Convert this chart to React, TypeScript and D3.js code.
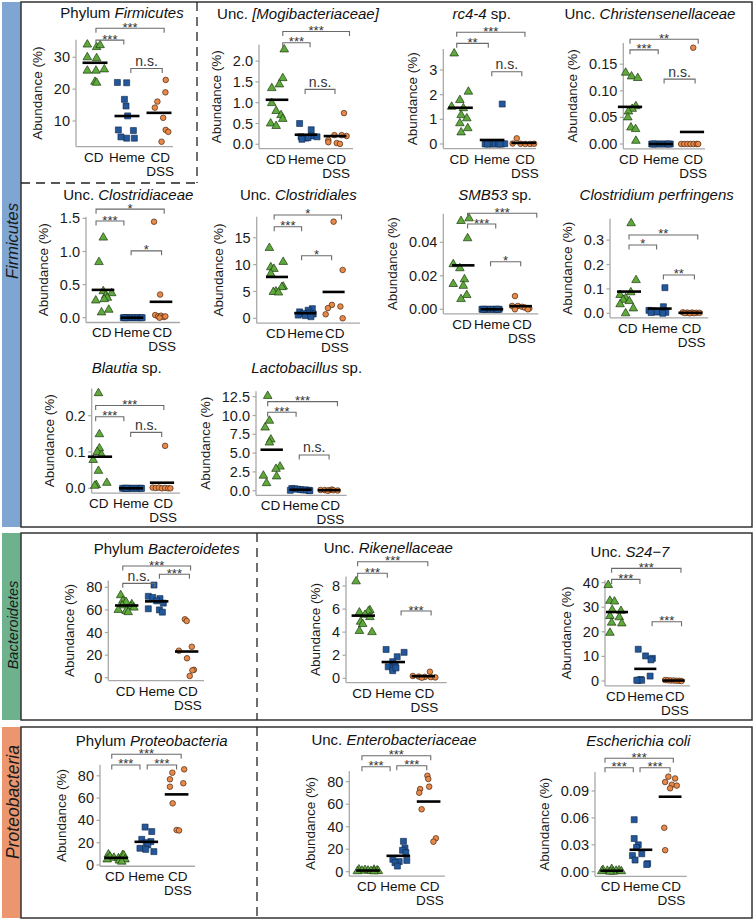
import React, { useEffect } from "react";
import * as d3 from "d3";

const W = 755;
const H = 921;
const categories = ["CD", "Heme", "CD DSS"];
const axisTitle = "Abundance (%)";

type Sig = [number, number, number, string];
type Seg = [string, boolean];

// ---------- DATA ----------
const firmicutesCD = [34.0, 33.2, 33.8, 30.0, 29.7, 25.8, 25.8, 26.2, 22.3, 22.0];
const firmicutesHeme = [22.1, 22.0, 16.8, 14.7, 11.6, 7.2, 7.0, 4.6, 4.6, 5.0];
const firmicutesDSS = [22.9, 19.0, 16.1, 14.2, 11.0, 7.2, 6.6, 3.5];
const firmicutesTicks = ["10", "20", "30"];
const firmicutesSig: Sig[] = [[0.03, 0.9, 35.4, "***"], [0.03, 2.16, 39.1, "***"], [1.12, 2.1, 26.5, "n.s."]];

const mogiCD = [2.28, 1.59, 1.44, 1.35, 0.99, 0.8, 0.7, 0.61, 0.5, 0.44];
const mogiHeme = [0.5, 0.35, 0.15, 0.18, 0.2, 0.18, 0.16, 0.12];
const mogiDSS = [0.75, 0.22, 0.22, 0.2, 0.1, 0.05, 0.03, 0.01];
const mogiTicks = ["0.0", "0.5", "1.0", "1.5", "2.0"];
const mogiSig: Sig[] = [[0.2, 1.14, 2.44, "***"], [0.2, 2.5, 2.71, "***"], [0.97, 2.0, 1.32, "n.s."]];

const rc44CD = [3.67, 2.12, 1.78, 1.51, 1.45, 1.17, 1.04, 0.84, 0.64, 0.47];
const rc44Heme = [1.62, 0, 0, 0, 0, 0, 0, 0.01, 0, 0];
const rc44DSS = [0.23, 0.02, 0.01, 0, 0, 0.01];
const rc44Ticks = ["0", "1", "2", "3"];
const rc44Sig: Sig[] = [[-0.12, 0.88, 4.08, "**"], [-0.12, 2.04, 4.53, "***"], [0.99, 1.94, 2.93, "n.s."]];

const christCD = [0.134, 0.127, 0.124, 0.071, 0.066, 0.061, 0.05, 0.031, 0.028, 0.006];
const christHeme = [0, 0, 0, 0, 0, 0, 0, 0, 0];
const christDSS = [0.181, 0, 0, 0, 0, 0, 0, 0];
const christTicks = ["0.00", "0.05", "0.10", "0.15"];
const christSig: Sig[] = [[0, 0.91, 0.177, "***"], [0, 2.2, 0.197, "**"], [1.1, 2.1, 0.122, "n.s."]];

const clostriCD = [1.21, 0.84, 0.4, 0.37, 0.34, 0.3, 0.28, 0.26, 0.12, 0.08];
const clostriHeme = [0, 0, 0, 0, 0, 0, 0, 0, 0];
const clostriDSS = [1.45, 0.35, 0.04, 0.02, 0.03, 0.01, 0.02, 0.0];
const clostriTicks = ["0.0", "0.5", "1.0", "1.5"];
const clostriSig: Sig[] = [[-0.24, 0.72, 1.46, "***"], [-0.24, 2.11, 1.64, "*"], [0.97, 2.02, 1.01, "*"]];

const clostrialesCD = [13.1, 10.5, 9.5, 9.2, 8.3, 5.9, 5.8, 5.0, 4.9, 4.8];
const clostrialesHeme = [1.8, 1.5, 1.2, 1.0, 0.9, 0.8, 0.6, 0.5, 0.3];
const clostrialesDSS = [18.0, 9.0, 2.5, 2.2, 1.9, 0.75, 0.0];
const clostrialesTicks = ["0", "5", "10", "15"];
const clostrialesSig: Sig[] = [[-0.1, 0.87, 17.06, "***"], [-0.1, 2.28, 19.24, "*"], [0.87, 1.93, 11.66, "*"]];

const smb53CD = [0.0543, 0.0527, 0.0424, 0.0269, 0.0245, 0.0179, 0.0151, 0.014, 0.0085, 0.0061];
const smb53Heme = [0, 0, 0, 0, 0, 0, 0, 0, 0];
const smb53DSS = [0.0079, 0.002, 0.002, 0.0015, 0.001, 0.0005, 0, 0];
const smb53Ticks = ["0.00", "0.02", "0.04"];
const smb53Sig: Sig[] = [[0.15, 1.13, 0.0509, "***"], [0.15, 2.56, 0.0573, "***"], [0.95, 2.0, 0.0284, "*"]];

const perfCD = [0.369, 0.136, 0.086, 0.075, 0.062, 0.055, 0.05, 0.037, 0.02, 0.0];
const perfHeme = [0.105, 0.027, 0.012, 0.01, 0.008, 0.005, 0.004, 0.003, 0.0];
const perfDSS = [0.004, 0.003, 0.003, 0.002, 0.002, 0.001, 0.001, 0.0];
const perfTicks = ["0.0", "0.1", "0.2", "0.3"];
const perfSig: Sig[] = [[0, 0.9, 0.28, "*"], [0, 2.24, 0.321, "**"], [1.12, 2.13, 0.157, "**"]];

const blautiaCD = [0.262, 0.149, 0.11, 0.1, 0.092, 0.078, 0.048, 0.015, 0.009, 0.007];
const blautiaHeme = [0, 0, 0, 0, 0, 0, 0, 0, 0];
const blautiaDSS = [0.117, 0.002, 0.001, 0.002, 0, 0.001, 0, 0];
const blautiaTicks = ["0.0", "0.1", "0.2"];
const blautiaSig: Sig[] = [[-0.14, 0.77, 0.197, "***"], [-0.14, 2.06, 0.228, "***"], [0.99, 1.99, 0.154, "n.s."]];

const lactoCD = [12.6, 9.3, 8.4, 6.8, 6.4, 3.2, 2.9, 2.0, 1.9, 1.0];
const lactoHeme = [0.3, 0.25, 0.2, 0.15, 0.1, 0.1, 0.05, 0.05, 0.0];
const lactoDSS = [0.15, 0.1, 0.08, 0.05, 0.05, 0.03, 0.0];
const lactoTicks = ["0.0", "2.5", "5.0", "7.5", "10.0", "12.5"];
const lactoSig: Sig[] = [[-0.14, 0.85, 10.43, "***"], [-0.14, 2.29, 11.84, "***"], [0.96, 2.0, 4.75, "n.s."]];

const bactCD = [73, 68, 67, 65, 64, 63, 62, 60, 59, 58];
const bactHeme = [82, 72, 71, 70, 68, 66, 61, 60, 58];
const bactDSS = [51.7, 50.2, 27.4, 23.9, 17.2, 7.0, 6.5, 1.5];
const bactTicks = ["0", "20", "40", "60", "80"];
const bactSig: Sig[] = [[-0.13, 0.94, 83.5, "n.s."], [-0.13, 2.13, 98.8, "***"], [1.09, 2.09, 91.5, "***"]];

const rikenCD = [8.4, 5.9, 5.8, 5.7, 5.5, 5.3, 4.9, 4.7, 4.1, 4.0];
const rikenHeme = [2.5, 2.25, 1.87, 1.44, 1.2, 1.0, 0.87, 0.66, 0.9];
const rikenDSS = [0.57, 0.2, 0.15, 0.12, 0.1, 0.08, 0.05];
const rikenTicks = ["0", "2", "4", "6", "8"];
const rikenSig: Sig[] = [[-0.19, 0.8, 9.1, "***"], [-0.19, 2.15, 10.1, "***"], [1.26, 2.26, 5.83, "***"]];

const s247CD = [39.0, 32.6, 32.3, 28.9, 28.5, 26.4, 25.9, 23.7, 23.4, 19.6];
const s247Heme = [12.9, 10.2, 9.2, 8.6, 2.0, 0.6, 0.3, 0.3, 0.3];
const s247DSS = [0.4, 0.3, 0.2, 0.2, 0.1, 0.1, 0.0];
const s247Ticks = ["0", "10", "20", "30", "40"];
const s247Sig: Sig[] = [[-0.19, 0.81, 41.3, "***"], [-0.19, 2.26, 45.8, "***"], [1.24, 2.28, 24.1, "***"]];

const proteoCD = [9.5, 9.0, 8.5, 7.5, 6.5, 6.0, 5.0, 5.0, 4.0, 3.0];
const proteoHeme = [34, 30, 23, 21, 20, 18, 15, 14, 12];
const proteoDSS = [85.8, 82.8, 76.9, 73.3, 70.2, 55.3, 31.4, 31.0];
const proteoTicks = ["0", "20", "40", "60", "80"];
const proteoSig: Sig[] = [[-0.14, 0.79, 89.7, "***"], [-0.14, 2.15, 99.3, "***"], [1.03, 2.0, 89.7, "***"]];

const enteroCD = [2.0, 1.8, 1.5, 1.2, 1.0, 0.9, 0.7, 0.5, 0.4, 0.3];
const enteroHeme = [27, 21, 19, 17, 11, 10, 9, 8, 5];
const enteroDSS = [85.3, 82.4, 75.6, 73.5, 70.2, 55.5, 29.7, 26.7];
const enteroTicks = ["0", "20", "40", "60", "80"];
const enteroSig: Sig[] = [[-0.2, 0.73, 93.3, "***"], [-0.2, 2.07, 103.1, "***"], [0.95, 1.94, 94.2, "***"]];

const ecoliCD = [0.003, 0.002, 0.0015, 0.001, 0.001, 0.0005, 0.0005, 0.0, 0.0];
const ecoliHeme = [0.058, 0.037, 0.03, 0.027, 0.02, 0.018, 0.013, 0.009, 0.008];
const ecoliDSS = [0.106, 0.104, 0.1, 0.097, 0.096, 0.093, 0.049, 0.024];
const ecoliTicks = ["0.00", "0.03", "0.06", "0.09"];
const ecoliSig: Sig[] = [[-0.23, 0.74, 0.116, "***"], [-0.23, 2.11, 0.1265, "***"], [0.97, 2.0, 0.116, "***"]];

// ---------- LAYOUT (jitter offsets in category units, pixel geometry) ----------
const firmicutesJit = [[-0.24, 0.05, 0.16, -0.24, 0.05, -0.24, 0.03, 0.29, 0.0, 0.05], [-0.3, -0.01, -0.08, -0.03, 0.02, -0.27, 0.2, -0.01, 0.23, -0.19], [0.21, 0.2, -0.05, -0.13, 0.13, 0.21, 0.29, 0.08]];
const mogiJit = [[0.25, 0.2, 0.08, -0.18, -0.18, -0.03, 0.14, 0.2, -0.22, -0.03], [-0.22, 0.18, 0, -0.17, 0.18, 0.38, 0.07, -0.14], [0.31, -0.02, 0.23, 0.4, -0.23, -0.23, 0.06, 0.17]];
const rc44Jit = [[-0.2, 0.25, -0.02, -0.28, 0.09, 0.02, 0.2, -0.02, 0.23, 0.02], [0.32, -0.22, -0.1, 0.0, 0.1, 0.2, 0.3, 0.4, -0.15, 0.25], [-0.22, -0.35, -0.1, 0.05, 0.2, 0.33]];
const christJit = [[-0.14, 0.05, 0.25, 0.19, 0.07, -0.05, -0.07, 0.03, 0.18, 0.19], [-0.3, -0.2, -0.1, 0, 0.1, 0.2, 0.3, -0.25, 0.25], [0.04, -0.35, -0.25, -0.15, -0.05, 0.05, 0.15, 0.2]];
const clostriJit = [[0.01, -0.14, 0.01, 0.3, 0.1, 0.15, 0.04, -0.25, 0.2, -0.05], [-0.3, -0.2, -0.1, 0, 0.1, 0.2, 0.3, 0.35, -0.25], [-0.24, -0.03, -0.2, -0.1, 0.0, 0.1, 0.15, -0.05]];
const clostrialesJit = [[-0.27, 0.22, -0.22, -0.11, -0.22, 0.22, 0.17, -0.04, -0.13, 0.05], [0.25, 0.1, -0.2, 0.15, -0.05, 0.28, -0.25, 0.0, 0.2], [0, 0.32, -0.06, 0.24, -0.2, -0.28, 0.32]];
const smb53Jit = [[0.2, -0.08, 0.15, -0.35, -0.12, 0.04, -0.35, 0.0, 0.12, -0.08], [-0.35, -0.25, -0.15, -0.05, 0.05, 0.15, 0.25, -0.3, 0.2], [-0.2, -0.3, -0.1, 0.05, 0.15, 0.3, -0.2, 0.25]];
const perfJit = [[0.07, 0.23, 0.06, -0.29, -0.11, -0.19, 0.01, -0.29, 0.14, -0.11], [0.17, 0.12, -0.35, -0.2, 0.0, -0.1, 0.2, -0.28, 0.1], [-0.25, -0.1, 0.05, 0.2, 0.3, -0.18, 0.12, -0.02]];
const blautiaJit = [[-0.05, -0.02, -0.02, -0.09, 0.05, -0.22, -0.05, 0.22, -0.12, -0.17], [-0.27, -0.2, -0.1, 0, 0.1, 0.2, 0.3, 0.34, -0.15], [0.1, -0.3, -0.2, -0.1, 0.0, 0.1, 0.2, 0.27]];
const lactoJit = [[-0.14, -0.08, -0.23, -0.03, -0.08, 0.29, 0.15, -0.29, 0.17, -0.18], [-0.3, -0.2, -0.1, 0.0, 0.1, 0.2, 0.3, -0.35, 0.33], [0.1, -0.3, -0.15, 0.0, 0.15, 0.3, -0.05]];
const bactJit = [[-0.2, -0.13, -0.02, 0.17, -0.15, 0.14, 0.24, -0.28, -0.02, 0.05], [-0.09, -0.28, -0.13, 0.11, 0.0, 0.22, -0.28, 0.09, 0.19], [-0.06, 0.0, 0.17, -0.26, 0.01, 0.24, 0.19, 0.1]];
const rikenJit = [[-0.24, 0.22, 0.17, -0.13, 0.06, 0.22, -0.09, -0.02, -0.13, 0.29], [-0.24, 0.36, 0.13, -0.02, 0.06, -0.17, -0.02, -0.02, 0.09], [0.22, -0.35, -0.15, 0.05, 0.25, 0.4, -0.05]];
const s247Jit = [[-0.31, -0.25, -0.09, -0.17, 0.14, -0.25, 0.08, -0.19, 0.17, -0.25], [-0.25, 0.01, 0.25, 0.2, 0.17, -0.16, -0.25, -0.13, -0.3], [-0.3, -0.2, -0.1, 0.0, 0.1, 0.2, 0.28]];
const proteoJit = [[-0.25, 0.22, 0.26, -0.2, -0.07, 0.08, -0.29, 0.3, 0.11, 0.19], [-0.04, 0.18, -0.15, 0.15, 0.0, 0.05, -0.21, -0.02, 0.25], [0.25, -0.14, -0.22, 0.22, -0.22, -0.13, 0.0, 0.08]];
const enteroJit = [[-0.3, 0.2, -0.1, 0.3, 0.0, -0.2, 0.1, 0.34, -0.35, 0.2], [0.17, 0.22, 0.14, 0.25, -0.18, 0.28, 0.03, -0.11, -0.03], [-0.04, -0.01, 0.02, -0.28, -0.31, -0.23, 0.24, 0.16]];
const ecoliJit = [[0.0, -0.3, 0.25, -0.15, 0.15, 0.33, -0.34, 0.05, -0.05], [-0.23, -0.23, -0.09, -0.15, 0.03, -0.29, -0.2, 0.23, 0.2], [-0.06, 0.17, -0.17, 0.06, 0.23, 0.0, -0.2, -0.17]];

interface Layout { left: number; right: number; c0: number; step: number; p0: number; k: number; tx: number; ty: number; }
interface PanelDef { title: Seg[]; groups: number[][]; jit: number[][]; ticks: string[]; sig: Sig[]; L: Layout; }

const panels: PanelDef[] = [
  { title: [["Phylum ", false], ["Firmicutes", true]], groups: [firmicutesCD, firmicutesHeme, firmicutesDSS], jit: firmicutesJit, ticks: firmicutesTicks, sig: firmicutesSig,
    L: { left: 76, right: 173, c0: 95, step: 32, p0: 152.85, k: 3.185, tx: 122, ty: 18 } },
  { title: [["Unc. ", false], ["[Mogibacteriaceae]", true]], groups: [mogiCD, mogiHeme, mogiDSS], jit: mogiJit, ticks: mogiTicks, sig: mogiSig,
    L: { left: 259, right: 353, c0: 277, step: 29, p0: 144.3, k: 41.6, tx: 298, ty: 19 } },
  { title: [["rc4-4", true], [" sp.", false]], groups: [rc44CD, rc44Heme, rc44DSS], jit: rc44Jit, ticks: rc44Ticks, sig: rc44Sig,
    L: { left: 443.3, right: 536, c0: 460.5, step: 31.6, p0: 144, k: 24.67, tx: 481.7, ty: 19 } },
  { title: [["Unc. ", false], ["Christensenellaceae", true]], groups: [christCD, christHeme, christDSS], jit: christJit, ticks: christTicks, sig: christSig,
    L: { left: 623.3, right: 705, c0: 630, step: 31, p0: 144, k: 532, tx: 650, ty: 19 } },
  { title: [["Unc. ", false], ["Clostridiaceae", true]], groups: [clostriCD, clostriHeme, clostriDSS], jit: clostriJit, ticks: clostriTicks, sig: clostriSig,
    L: { left: 86, right: 180, c0: 103, step: 29, p0: 317.7, k: 66.2, tx: 128.3, ty: 200 } },
  { title: [["Unc. ", false], ["Clostridiales", true]], groups: [clostrialesCD, clostrialesHeme, clostrialesDSS], jit: clostrialesJit, ticks: clostrialesTicks, sig: clostrialesSig,
    L: { left: 256.7, right: 360, c0: 277, step: 28.3, p0: 318.3, k: 5.37, tx: 298.3, ty: 200 } },
  { title: [["SMB53", true], [" sp.", false]], groups: [smb53CD, smb53Heme, smb53DSS], jit: smb53Jit, ticks: smb53Ticks, sig: smb53Sig,
    L: { left: 443.3, right: 538.3, c0: 463.3, step: 28.7, p0: 309.3, k: 1675, tx: 495, ty: 200 } },
  { title: [["Clostridium perfringens", true]], groups: [perfCD, perfHeme, perfDSS], jit: perfJit, ticks: perfTicks, sig: perfSig,
    L: { left: 610, right: 708.3, c0: 629, step: 30.7, p0: 313.3, k: 244, tx: 656.7, ty: 200 } },
  { title: [["Blautia", true], [" sp.", false]], groups: [blautiaCD, blautiaHeme, blautiaDSS], jit: blautiaJit, ticks: blautiaTicks, sig: blautiaSig,
    L: { left: 91.7, right: 180, c0: 100, step: 31, p0: 488.3, k: 363, tx: 126.7, ty: 373 } },
  { title: [["Lactobacillus", true], [" sp.", false]], groups: [lactoCD, lactoHeme, lactoDSS], jit: lactoJit, ticks: lactoTicks, sig: lactoSig,
    L: { left: 256, right: 346.7, c0: 271.7, step: 28.7, p0: 490.7, k: 7.52, tx: 306.7, ty: 373 } },
  { title: [["Phylum ", false], ["Bacteroidetes", true]], groups: [bactCD, bactHeme, bactDSS], jit: bactJit, ticks: bactTicks, sig: bactSig,
    L: { left: 108.3, right: 204, c0: 126.7, step: 30, p0: 677.7, k: 1.13, tx: 166.7, ty: 554 } },
  { title: [["Unc. ", false], ["Rikenellaceae", true]], groups: [rikenCD, rikenHeme, rikenDSS], jit: rikenJit, ticks: rikenTicks, sig: rikenSig,
    L: { left: 346, right: 446.7, c0: 363.3, step: 30, p0: 678.3, k: 11.54, tx: 388.3, ty: 553.3 } },
  { title: [["Unc. ", false], ["S24\u22127", true]], groups: [s247CD, s247Heme, s247DSS], jit: s247Jit, ticks: s247Ticks, sig: s247Sig,
    L: { left: 605, right: 690, c0: 617, step: 28.3, p0: 681, k: 2.46, tx: 630, ty: 556.7 } },
  { title: [["Phylum ", false], ["Proteobacteria", true]], groups: [proteoCD, proteoHeme, proteoDSS], jit: proteoJit, ticks: proteoTicks, sig: proteoSig,
    L: { left: 100, right: 195, c0: 116, step: 30.3, p0: 865, k: 1.115, tx: 151.7, ty: 745.7 } },
  { title: [["Unc. ", false], ["Enterobacteriaceae", true]], groups: [enteroCD, enteroHeme, enteroDSS], jit: enteroJit, ticks: enteroTicks, sig: enteroSig,
    L: { left: 349.3, right: 445, c0: 368, step: 30.3, p0: 871.7, k: 1.125, tx: 394, ty: 745 } },
  { title: [["Escherichia coli", true]], groups: [ecoliCD, ecoliHeme, ecoliDSS], jit: ecoliJit, ticks: ecoliTicks, sig: ecoliSig,
    L: { left: 595, right: 686.7, c0: 611.7, step: 29.2, p0: 871.7, k: 896.7, tx: 638.3, ty: 745.7 } },
];

const sections = [
  { name: "Firmicutes", y0: 2, y1: 527, color: "#7fa6d3", labelY: 241, fs: 16.5 },
  { name: "Bacteroidetes", y0: 533, y1: 720, color: "#6db28d", labelY: 625, fs: 14.5 },
  { name: "Proteobacteria", y0: 727, y1: 918, color: "#ec9670", labelY: 802, fs: 17.5 },
];

const FONT = "'Liberation Sans', Arial, Helvetica, sans-serif";
const fills = ["#5fa83c", "#23579a", "#e8894a"];
const strokes = ["#1d3b10", "#0e2748", "#4a2810"];

const triPath = d3.symbol(d3.symbolTriangle, 32)() as string;
const sqPath = d3.symbol(d3.symbolSquare, 36)() as string;

function textWidth(s: string, fs: number) {
  let w = 0;
  for (const ch of s) w += ch === "." ? 0.278 : 0.556;
  return w * fs;
}

function Panel({ p }: { p: PanelDef }) {
  const { L } = p;
  const all = p.groups.flat();
  const mn = d3.min(all) as number;
  const mx = d3.max(all) as number;
  const pad = (mx - mn) * 0.05;
  const lo = mn - pad;
  const hi = mx + pad;
  const y = d3.scaleLinear().domain([lo, hi]).range([L.p0 - lo * L.k, L.p0 - hi * L.k]);
  const x = d3.scaleLinear().domain([0, 2]).range([L.c0, L.c0 + 2 * L.step]);
  const bottom = y(lo);
  const top = y(hi);
  const tickFs = 14.5;
  const maxW = d3.max(p.ticks, (t) => textWidth(t, tickFs)) as number;
  const axisTitleX = L.left - 6 - maxW - 12;
  const meanHalf = 0.39;
  return (
    <g>
      <text x={L.tx} y={L.ty} textAnchor="middle" fontSize={15} fill="#111">
        {p.title.map(([t, it], i) => (
          <tspan key={i} fontStyle={it ? "italic" : "normal"}>{t}</tspan>
        ))}
      </text>
      {/* axes */}
      <line x1={L.left} x2={L.left} y1={top} y2={bottom} stroke="#a8a8a8" strokeWidth={1.3} />
      <line x1={L.left} x2={L.right} y1={bottom} y2={bottom} stroke="#a8a8a8" strokeWidth={1.3} />
      {p.ticks.map((t) => (
        <g key={t}>
          <line x1={L.left - 3.5} x2={L.left} y1={y(+t)} y2={y(+t)} stroke="#a8a8a8" strokeWidth={1.2} />
          <text x={L.left - 6} y={y(+t)} dy="0.35em" textAnchor="end" fontSize={tickFs} fill="#1a1a1a">{t}</text>
        </g>
      ))}
      <text transform={`translate(${axisTitleX},${(top + bottom) / 2}) rotate(-90)`} textAnchor="middle" fontSize={13.5} fill="#1a1a1a">{axisTitle}</text>
      {categories.map((c, i) => {
        const lines = c.split(" ");
        return (
          <text key={c} x={x(i) + (i - 1) * 1.2} y={bottom + 15} textAnchor="middle" fontSize={13.5} fill="#111">
            {lines.map((l, j) => (
              <tspan key={j} x={x(i) + (i - 1) * 1.2} dy={j === 0 ? 0 : 14}>{l}</tspan>
            ))}
          </text>
        );
      })}
      {/* points */}
      {p.groups.map((g, gi) =>
        g.map((v, i) => {
          const cx = x(gi + (p.jit[gi][i] ?? 0));
          const cy = y(v);
          if (gi === 0) return <path key={`${gi}-${i}`} d={triPath} transform={`translate(${cx},${cy})`} fill={fills[0]} stroke={strokes[0]} strokeWidth={0.7} />;
          if (gi === 1) return <path key={`${gi}-${i}`} d={sqPath} transform={`translate(${cx},${cy})`} fill={fills[1]} stroke={strokes[1]} strokeWidth={0.6} />;
          return <circle key={`${gi}-${i}`} cx={cx} cy={cy} r={2.8} fill={fills[2]} stroke={strokes[2]} strokeWidth={0.7} />;
        })
      )}
      {/* means */}
      {p.groups.map((g, gi) => {
        const m = d3.mean(g) as number;
        return <line key={`m${gi}`} x1={x(gi - meanHalf)} x2={x(gi + meanHalf)} y1={y(m)} y2={y(m)} stroke="#000" strokeWidth={2.6} />;
      })}
      {/* significance brackets */}
      {p.sig.map(([a, b, v, lab], i) => {
        const yy = y(v);
        const isNs = lab === "n.s.";
        return (
          <g key={`s${i}`}>
            <path d={`M${x(a)},${yy + 4.5}V${yy}H${x(b)}V${yy + 4.5}`} fill="none" stroke="#6a6a6a" strokeWidth={1.1} />
            <text x={(x(a) + x(b)) / 2} y={isNs ? yy - 2.5 : yy + 3.5} textAnchor="middle" fontSize={isNs ? 14 : 13} fill="#333">{lab}</text>
          </g>
        );
      })}
    </g>
  );
}

export default function App() {
  useEffect(() => {
    document.body.style.margin = "0";
  }, []);
  return (
    <svg width={W} height={H} viewBox={`0 0 ${W} ${H}`} style={{ display: "block", position: "absolute", left: 0, top: 0, background: "#fff" }} fontFamily={FONT}>
      <rect x={0} y={0} width={W} height={H} fill="#fff" />
      {sections.map((s) => (
        <g key={s.name}>
          <rect x={2} y={s.y0} width={19} height={s.y1 - s.y0} fill={s.color} />
          <rect x={21} y={s.y0} width={731} height={s.y1 - s.y0} fill="none" stroke="#333" strokeWidth={1.5} />
          <text transform={`translate(${12.5},${s.labelY}) rotate(-90)`} textAnchor="middle" dy="0.35em" fontSize={s.fs} fontStyle="italic" fill="#1a1a1a">{s.name}</text>
        </g>
      ))}
      <g stroke="#222" strokeWidth={1.3} strokeDasharray="9,6" fill="none">
        <line x1={197} x2={197} y1={2} y2={183} />
        <line x1={21} x2={197} y1={183} y2={183} />
        <line x1={257} x2={257} y1={533} y2={720} />
        <line x1={257} x2={257} y1={727} y2={918} />
      </g>
      {panels.map((p, i) => (
        <Panel key={i} p={p} />
      ))}
    </svg>
  );
}
